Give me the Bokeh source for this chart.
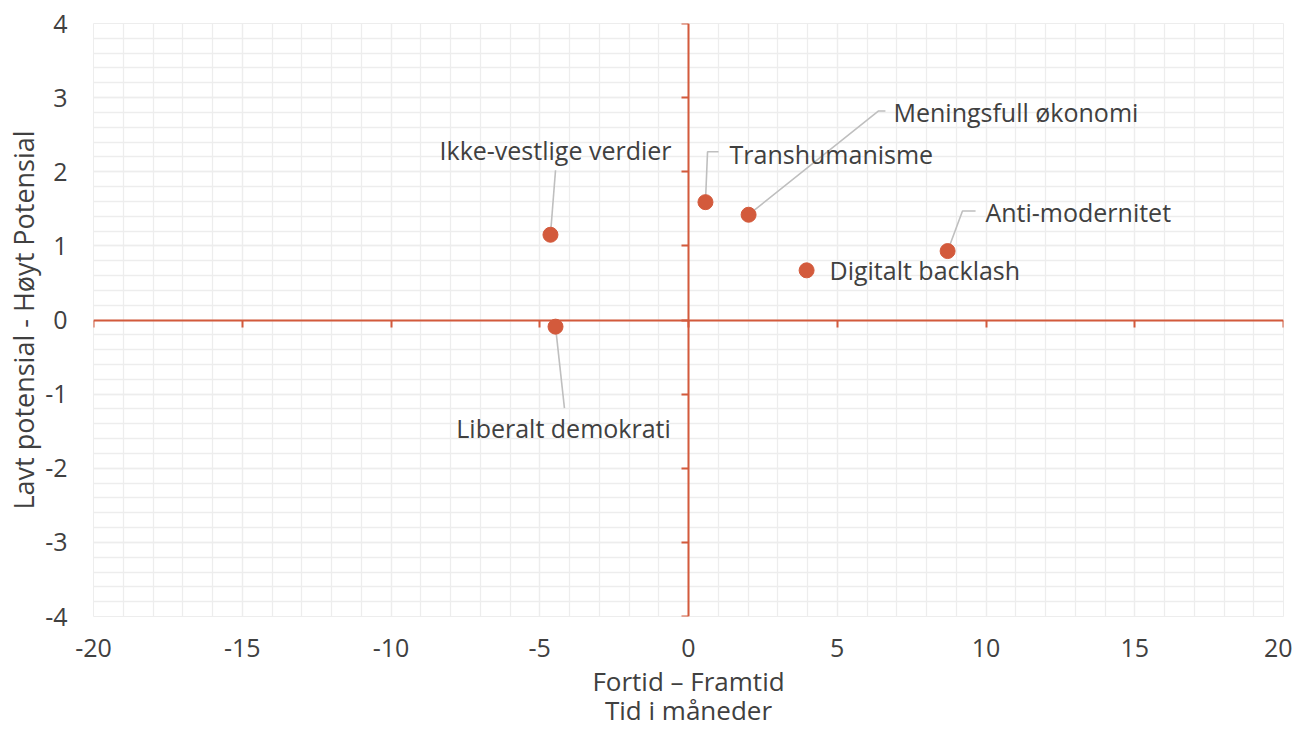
from bokeh.plotting import figure
from bokeh.models import (LinearAxis, SingleIntervalTicker, Range1d, ColumnDataSource,
                          CustomJSTickFormatter)
from bokeh.core.properties import value
from bokeh.embed import file_html
from bokeh.resources import INLINE

# ---- data ----
names = ["Ikke-vestlige verdier", "Liberalt demokrati", "Transhumanisme",
         "Meningsfull økonomi", "Digitalt backlash", "Anti-modernitet"]
x_vals = [-4.64, -4.47, 0.57, 2.02, 3.97, 8.71]
y_vals = [1.15, -0.09, 1.59, 1.42, 0.67, 0.93]

x_ticks = [-20, -15, -10, -5, 0, 5, 10, 15, 20]
x_tick_labels = ["-20", "-15", "-10", "-5", "0", "5", "10", "15", "20"]
y_ticks = [-4, -3, -2, -1, 0, 1, 2, 3, 4]
y_tick_labels = ["-4", "-3", "-2", "-1", "0", "1", "2", "3", "4"]

x_title = "Fortid – Framtid\nTid i måneder"
y_title = "Lavt potensial - Høyt Potensial"

# ---- label placement (data units) ----
label_x = [-4.47, -4.20, 1.38, 6.89, 4.74, 9.98]
label_y = [2.29, -1.46, 2.24, 2.81, 0.67, 1.46]
label_align = ["center", "center", "left", "left", "left", "left"]
leader_xs = [[-4.64, -4.47], [-4.47, -4.17], [0.57, 0.64, 1.01],
             [2.02, 6.39, 6.62], [8.71, 9.21, 9.65]]
leader_ys = [[1.15, 2.02], [-0.09, -1.19], [1.59, 2.27, 2.27],
             [1.42, 2.82, 2.82], [0.93, 1.47, 1.47]]

FONT = "Open Sans"
FS = "25px"
TXT = "#404040"
ACC = "#D35A3C"
GRID = "#EDEDED"

p = figure(width=1292, height=731, output_backend="svg", toolbar_location=None,
           x_range=Range1d(-20, 20), y_range=Range1d(-4, 4),
           min_border_left=93, min_border_right=9, min_border_top=23, min_border_bottom=115)
p.outline_line_color = GRID

xt = SingleIntervalTicker(interval=5, num_minor_ticks=5)
yt = SingleIntervalTicker(interval=1, num_minor_ticks=5)

for ax, tk, lab, tv, tl in ((p.xaxis[0], xt, x_title, x_ticks, x_tick_labels),
                            (p.yaxis[0], yt, y_title, y_ticks, y_tick_labels)):
    ax.ticker = tk
    ax.major_label_overrides = {v: s for v, s in zip(tv, tl)}
    ax.axis_line_color = None
    ax.major_tick_line_color = None
    ax.minor_tick_line_color = None
    ax.major_tick_out = 0
    ax.major_tick_in = 0
    ax.minor_tick_out = 0
    ax.minor_tick_in = 0
    ax.major_label_text_font = FONT
    ax.major_label_text_font_size = FS
    ax.major_label_text_color = TXT
    ax.axis_label = lab
    ax.axis_label_text_font = FONT
    ax.axis_label_text_color = TXT
    ax.axis_label_text_font_style = "normal"
    ax.axis_label_text_line_height = 0.82
p.xaxis[0].axis_label_text_font_size = "26px"
p.yaxis[0].axis_label_text_font_size = "27px"
p.xaxis[0].major_label_standoff = 22
p.xaxis[0].axis_label_standoff = 3
p.yaxis[0].major_label_standoff = 26
p.yaxis[0].axis_label_standoff = 0

p.xgrid.ticker = xt
p.ygrid.ticker = yt
for g in (p.xgrid[0], p.ygrid[0]):
    g.grid_line_color = GRID
    g.grid_line_width = 1.3
    g.minor_grid_line_color = GRID
    g.minor_grid_line_width = 1.3

# axes crossing at the origin (ticks point down / left, into the frame)
blank = CustomJSTickFormatter(code="return ''")
cx = LinearAxis(fixed_location=0, ticker=xt, formatter=blank)
cy = LinearAxis(fixed_location=0, ticker=yt, formatter=blank)
for ax in (cx, cy):
    ax.axis_line_color = ACC
    ax.axis_line_width = 2
    ax.major_tick_line_color = ACC
    ax.major_tick_line_width = 2
    ax.major_tick_out = 0
    ax.major_tick_in = 7
    ax.minor_tick_line_color = None
    ax.major_label_standoff = 0
    ax.major_label_text_font_size = "1px"
p.add_layout(cx, "above")
p.add_layout(cy, "right")

p.multi_line(xs=leader_xs, ys=leader_ys, line_color="#BFBFBF", line_width=1.6)

src = ColumnDataSource(dict(x=x_vals, y=y_vals, name=names, lx=label_x, ly=label_y,
                            align=label_align))
p.scatter("x", "y", source=src, size=15, fill_color=ACC, line_color=ACC)
p.text("lx", "ly", text="name", source=src, text_align="align", text_baseline="middle",
       text_font=value(FONT), text_font_size=FS, text_color=TXT)

open("out.html", "w").write(file_html(p, INLINE))
